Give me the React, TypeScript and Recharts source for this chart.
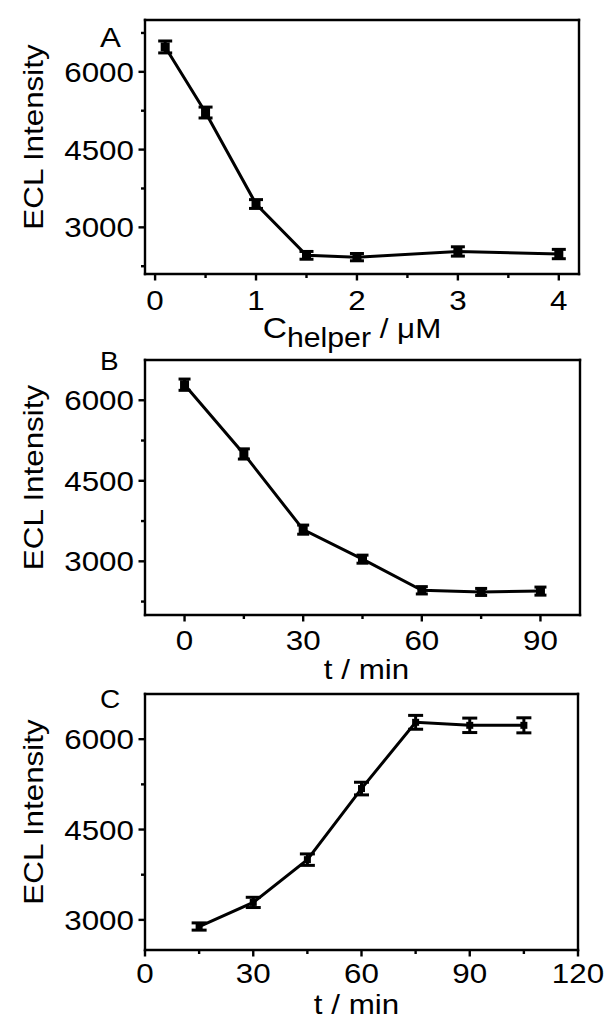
import React from 'react';
import { LineChart, Line, XAxis, YAxis, ErrorBar, Label } from 'recharts';

const FONT = '"Liberation Sans", Arial, sans-serif';
const SX = 1.12; // the figure's lettering is a bit wider than Arial

// panel A: helper concentration (uM)
const helperConc = [0.1, 0.5, 1, 1.5, 2, 3, 4];
const eclA = [6480, 5215, 3450, 2460, 2425, 2535, 2485];
const errA = [115, 105, 85, 75, 70, 90, 90];
const xMajorA = [0, 1, 2, 3, 4];
const xMinorA = [0.5, 1.5, 2.5, 3.5];

// panel B: time (min)
const timeB = [0, 15, 30, 45, 60, 75, 90];
const eclB = [6290, 5000, 3590, 3040, 2460, 2430, 2445];
const errB = [105, 95, 85, 75, 68, 65, 75];
const xMajorB = [0, 30, 60, 90];
const xMinorB = [15, 45, 75];

// panel C: time (min)
const timeC = [15, 30, 45, 60, 75, 90, 105];
const eclC = [2890, 3290, 4000, 5180, 6280, 6230, 6230];
const errC = [60, 85, 95, 105, 115, 120, 125];
const xMajorC = [0, 30, 60, 90, 120];
const xMinorC = [15, 45, 75, 105];

const yMajor = [3000, 4500, 6000];
const yMinorA = [2250, 3750, 5250, 6750];
const yMinorB = [2250, 3750, 5250];
const yMinorC = [3750, 5250];

const toRows = (xs: number[], ys: number[], es: number[]) =>
  xs.map((x, i) => ({ x, y: ys[i], err: es[i] }));

const AXIS = { stroke: '#000', strokeWidth: 2.4, strokeLinecap: 'square' as const };

function makeXTick(major: number[], labelDy: number) {
  return (props: any) => {
    const { x, y, payload } = props;
    const isMajor = major.includes(payload.value);
    return (
      <g>
        <line x1={x} x2={x} y1={y} y2={y + (isMajor ? 6.5 : 4)} stroke="#000" strokeWidth={2.4} />
        {isMajor && (
          <text
            transform={`translate(${x},${y + labelDy}) scale(${SX},1)`}
            textAnchor="middle"
            fontSize={28}
            fontFamily={FONT}
            fill="#000"
          >
            {payload.value}
          </text>
        )}
      </g>
    );
  };
}

function makeYTick(major: number[]) {
  return (props: any) => {
    const { x, y, payload } = props;
    const isMajor = major.includes(payload.value);
    return (
      <g>
        <line x1={x} x2={x - (isMajor ? 6.5 : 4)} y1={y} y2={y} stroke="#000" strokeWidth={2.4} />
        {isMajor && (
          <text
            transform={`translate(${x - 11},${y + 10}) scale(${SX},1)`}
            textAnchor="end"
            fontSize={28}
            fontFamily={FONT}
            fill="#000"
          >
            {payload.value}
          </text>
        )}
      </g>
    );
  };
}

const squareDot = (size: number) => (props: any) => {
  const { cx, cy, key } = props;
  return <rect key={key} x={cx - size / 2} y={cy - size / 2} width={size} height={size} fill="#000" />;
};

type PanelProps = {
  top: number;
  height: number;
  margin: { top: number; right: number; bottom: number; left: number };
  rows: { x: number; y: number; err: number }[];
  xDomain: [number, number];
  yDomain: [number, number];
  xMajor: number[];
  xMinor: number[];
  yMinor: number[];
  xLabelDy: number;
  xTitle: React.ReactNode;
  xTitleDx: number;
  letter: string;
  letterSize: number;
  letterDy: number;
  dotSize: number;
  capHalf: number;
};

function Panel(p: PanelProps) {
  return (
    <div style={{ position: 'absolute', left: 0, top: p.top, width: 609, height: p.height }}>
      <LineChart width={609} height={p.height} data={p.rows} margin={p.margin}>
        <XAxis
          dataKey="x"
          type="number"
          domain={p.xDomain}
          allowDataOverflow
          ticks={[...p.xMajor, ...p.xMinor].sort((a, b) => a - b)}
          interval={0}
          tickSize={0}
          tickMargin={0}
          tickLine={false}
          axisLine={AXIS}
          tick={makeXTick(p.xMajor, p.xLabelDy)}
          height={60}
        >
          <Label
            content={(lp: any) => {
              const vb = lp.viewBox;
              return (
                <text
                  transform={`translate(${vb.x + vb.width / 2 + p.xTitleDx},${vb.y + 64}) scale(${SX},1)`}
                  textAnchor="middle"
                  fontSize={28}
                  fontFamily={FONT}
                  fill="#000"
                >
                  {p.xTitle}
                </text>
              );
            }}
          />
        </XAxis>
        {/* mirrored top axis closes the frame and carries the panel letter */}
        <XAxis
          xAxisId="top"
          orientation="top"
          type="number"
          domain={p.xDomain}
          allowDataOverflow
          tick={false}
          tickLine={false}
          axisLine={AXIS}
          height={1}
        >
          <Label
            content={(lp: any) => {
              const vb = lp.viewBox;
              return (
                <text
                  transform={`translate(100,${vb.y + 1 + p.letterDy}) scale(${SX},1)`}
                  fontSize={p.letterSize}
                  fontFamily={FONT}
                  fill="#000"
                >
                  {p.letter}
                </text>
              );
            }}
          />
        </XAxis>
        <YAxis
          type="number"
          domain={p.yDomain}
          allowDataOverflow
          ticks={[...yMajor, ...p.yMinor].sort((a, b) => a - b)}
          interval={0}
          tickSize={0}
          tickMargin={0}
          tickLine={false}
          axisLine={AXIS}
          tick={makeYTick(yMajor)}
          width={145}
        >
          <Label
            content={(lp: any) => {
              const vb = lp.viewBox;
              const cy = vb.y + vb.height / 2 - 10;
              return (
                <text
                  transform={`translate(43,${cy}) rotate(-90) scale(${SX},1)`}
                  textAnchor="middle"
                  fontSize={28}
                  fontFamily={FONT}
                  fill="#000"
                >
                  ECL Intensity
                </text>
              );
            }}
          />
        </YAxis>
        <YAxis
          yAxisId="right"
          orientation="right"
          type="number"
          domain={p.yDomain}
          allowDataOverflow
          tick={false}
          tickLine={false}
          axisLine={AXIS}
          width={1}
        />
        <Line
          type="linear"
          dataKey="y"
          stroke="#000"
          strokeWidth={3}
          dot={squareDot(p.dotSize)}
          activeDot={false}
          isAnimationActive={false}
        >
          <ErrorBar
            dataKey="err"
            direction="y"
            width={p.capHalf}
            stroke="#000"
            strokeWidth={3}
            isAnimationActive={false}
          />
        </Line>
      </LineChart>
    </div>
  );
}

export default function App() {
  return (
    <div style={{ position: 'absolute', left: 0, top: 0, width: 609, height: 1030, background: '#fff' }}>
      <Panel
        top={0}
        height={365}
        margin={{ top: 19, right: 29, bottom: 31, left: 0 }}
        rows={toRows(helperConc, eclA, errA)}
        xDomain={[-0.1, 4.2]}
        yDomain={[2100, 7000]}
        xMajor={xMajorA}
        xMinor={xMinorA}
        yMinor={yMinorA}
        xLabelDy={36}
        xTitle={
          <>
            <tspan fontSize={30}>C</tspan>
            <tspan fontSize={27} dy={9}>helper</tspan>
            <tspan dy={-9}> / μM</tspan>
          </>
        }
        xTitleDx={-10}
        letter="A"
        letterSize={28}
        letterDy={27}
        dotSize={9}
        capHalf={7}
      />
      <Panel
        top={340}
        height={355}
        margin={{ top: 19, right: 28, bottom: 20, left: 0 }}
        rows={toRows(timeB, eclB, errB)}
        xDomain={[-10, 100]}
        yDomain={[2000, 6750]}
        xMajor={xMajorB}
        xMinor={xMinorB}
        yMinor={yMinorB}
        xLabelDy={35}
        xTitle="t / min"
        xTitleDx={4}
        letter="B"
        letterSize={25}
        letterDy={10}
        dotSize={9}
        capHalf={6}
      />
      <Panel
        top={675}
        height={355}
        margin={{ top: 18, right: 30, bottom: 20, left: 0 }}
        rows={toRows(timeC, eclC, errC)}
        xDomain={[0, 120]}
        yDomain={[2500, 6750]}
        xMajor={xMajorC}
        xMinor={xMinorC}
        yMinor={yMinorC}
        xLabelDy={33}
        xTitle="t / min"
        xTitleDx={-5}
        letter="C"
        letterSize={25}
        letterDy={14}
        dotSize={7}
        capHalf={7.5}
      />
    </div>
  );
}
